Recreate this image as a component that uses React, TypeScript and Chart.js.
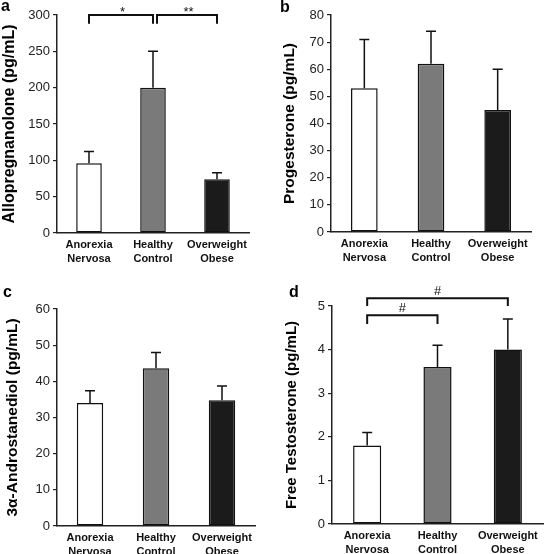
import React, { useEffect, useRef } from 'react';
import { Chart, registerables } from 'chart.js';

Chart.register(...registerables);

const FONT = "'Liberation Sans', Arial, sans-serif";

const categories = [
  ['Anorexia', 'Nervosa'],
  ['Healthy', 'Control'],
  ['Overweight', 'Obese'],
];
const barColors = ['#ffffff', '#7a7a7a', '#1b1b1b'];

const alloValues = [96, 200, 74];
const alloErrors = [16, 50, 9];
const progValues = [53, 62, 45];
const progErrors = [18, 12, 15];
const androValues = [34, 43.6, 34.8];
const androErrors = [3.4, 4.4, 3.9];
const testoValues = [1.8, 3.6, 4.0];
const testoErrors = [0.3, 0.5, 0.7];

const alloBrackets = [
  { from: 0, to: 1, top: 300, leg: 288, label: '*' },
  { from: 1, to: 2, top: 300, leg: 288, label: '**' },
];
const testoBrackets = [
  { from: 0, to: 2, top: 5.18, leg: 5.0, label: '#' },
  { from: 0, to: 1, top: 4.79, leg: 4.59, label: '#' },
];

const panels = [
  { letter: 'a', lx: 1, ly: 11, left: 0, top: 0, yw: 57, padTop: 15, padRight: 23, xh: 44, max: 300, step: 50,
    title: 'Allopregnanolone (pg/mL)', tfs: 16, tpad: 2, values: alloValues, errors: alloErrors, brackets: alloBrackets },
  { letter: 'b', lx: 8, ly: 12, left: 272, top: 0, yw: 59, padTop: 15, padRight: 13, xh: 45, max: 80, step: 10,
    title: 'Progesterone (pg/mL)', tfs: 15.5, tpad: 9.75, values: progValues, errors: progErrors, brackets: [] },
  { letter: 'c', lx: 3, ly: 20, left: 0, top: 277, yw: 57, padTop: 32, padRight: 17, xh: 28, max: 60, step: 10,
    title: '3α-Androstanediol (pg/mL)', tfs: 15.5, tpad: 5.25, values: androValues, errors: androErrors, brackets: [] },
  { letter: 'd', lx: 17, ly: 20, left: 272, top: 277, yw: 60, padTop: 29, padRight: 1, xh: 30, max: 5, step: 1,
    title: 'Free Testosterone (pg/mL)', tfs: 15, tpad: 12.5, values: testoValues, errors: testoErrors, brackets: testoBrackets },
];

const annotPlugin = {
  id: 'annot',
  afterDatasetsDraw(chart: any, _args: any, opts: any) {
    const { ctx } = chart;
    const x = chart.scales.x;
    const y = chart.scales.y;
    const meta = chart.getDatasetMeta(0);
    ctx.save();
    // error bars (upper only)
    ctx.strokeStyle = '#111';
    ctx.lineWidth = 1.5;
    (opts.errors || []).forEach((e: number, i: number) => {
      const bar = meta.data[i];
      const cx = bar.x;
      const yTop = y.getPixelForValue(opts.values[i] + e);
      ctx.beginPath();
      ctx.moveTo(cx, bar.y);
      ctx.lineTo(cx, yTop);
      ctx.moveTo(cx - 5, yTop);
      ctx.lineTo(cx + 5, yTop);
      ctx.stroke();
    });
    // significance brackets
    const brs = opts.brackets || [];
    ctx.lineWidth = 2;
    ctx.fillStyle = '#111';
    ctx.font = `13px ${FONT}`;
    ctx.textAlign = 'center';
    ctx.textBaseline = 'alphabetic';
    brs.forEach((b: any) => {
      const shared = brs.some((o: any) => o !== b && o.top === b.top && o.to === b.from);
      const x1 = x.getPixelForValue(b.from) + (shared ? 4 : 0);
      const x2 = x.getPixelForValue(b.to);
      const yt = y.getPixelForValue(b.top);
      const yl = y.getPixelForValue(b.leg);
      ctx.beginPath();
      ctx.moveTo(x1, yl);
      ctx.lineTo(x1, yt);
      ctx.lineTo(x2, yt);
      ctx.lineTo(x2, yl);
      ctx.stroke();
      const off = b.label.startsWith('*') ? -1 : 3.5;
      ctx.fillText(b.label, (x1 + x2) / 2 + (b.label.startsWith('*') ? 1.5 : 0), yt - off);
    });
    // panel letter
    ctx.font = `bold 16px ${FONT}`;
    ctx.textAlign = 'left';
    ctx.fillStyle = '#000';
    ctx.fillText(opts.letter, opts.lx, opts.ly);
    ctx.restore();
  },
};

function Panel({ cfg }: { cfg: any }) {
  const ref = useRef<HTMLCanvasElement>(null);
  useEffect(() => {
    const chart = new Chart(ref.current as HTMLCanvasElement, {
      type: 'bar',
      data: {
        labels: categories as any,
        datasets: [
          {
            data: cfg.values,
            backgroundColor: barColors,
            borderColor: '#111',
            borderWidth: 1.5,
            borderSkipped: false,
            barPercentage: 0.4,
            categoryPercentage: 1,
          } as any,
        ],
      },
      options: {
        responsive: false,
        animation: false,
        devicePixelRatio: 1,
        layout: { padding: { top: cfg.padTop, right: cfg.padRight, left: 0, bottom: 0 } },
        plugins: {
          legend: { display: false },
          tooltip: { enabled: false },
          annot: {
            values: cfg.values,
            errors: cfg.errors,
            brackets: cfg.brackets,
            letter: cfg.letter,
            lx: cfg.lx,
            ly: cfg.ly,
          },
        } as any,
        scales: {
          x: {
            grid: { display: false, drawTicks: false },
            border: { display: true, color: '#222', width: 1.5 },
            ticks: {
              font: { family: FONT, size: 11, weight: 'bold', lineHeight: 1.25 },
              color: '#111',
              padding: 5,
              maxRotation: 0,
              autoSkip: false,
            },
            afterFit: (s: any) => {
              s.height = cfg.xh;
            },
          },
          y: {
            min: 0,
            max: cfg.max,
            ticks: { stepSize: cfg.step, font: { family: FONT, size: 13 }, color: '#222', padding: 3 },
            grid: { drawOnChartArea: false, drawTicks: true, tickLength: 4, color: '#222', lineWidth: 1.2 },
            border: { display: true, color: '#222', width: 1.5 },
            title: {
              display: true,
              text: cfg.title,
              font: { family: FONT, size: cfg.tfs, weight: 'bold', lineHeight: 1 },
              color: '#000',
              padding: { top: cfg.tpad, bottom: 0 },
            },
            afterFit: (s: any) => {
              s.width = cfg.yw;
            },
          },
        } as any,
      },
      plugins: [annotPlugin as any],
    });
    return () => chart.destroy();
  }, []);
  return (
    <canvas
      ref={ref}
      width={272}
      height={277}
      style={{ position: 'absolute', left: cfg.left, top: cfg.top, width: 272, height: 277 }}
    />
  );
}

export default function App() {
  return (
    <div style={{ position: 'absolute', left: 0, top: 0, width: 544, height: 554, background: '#fff', overflow: 'hidden' }}>
      {panels.map((p) => (
        <Panel key={p.letter} cfg={p} />
      ))}
    </div>
  );
}
